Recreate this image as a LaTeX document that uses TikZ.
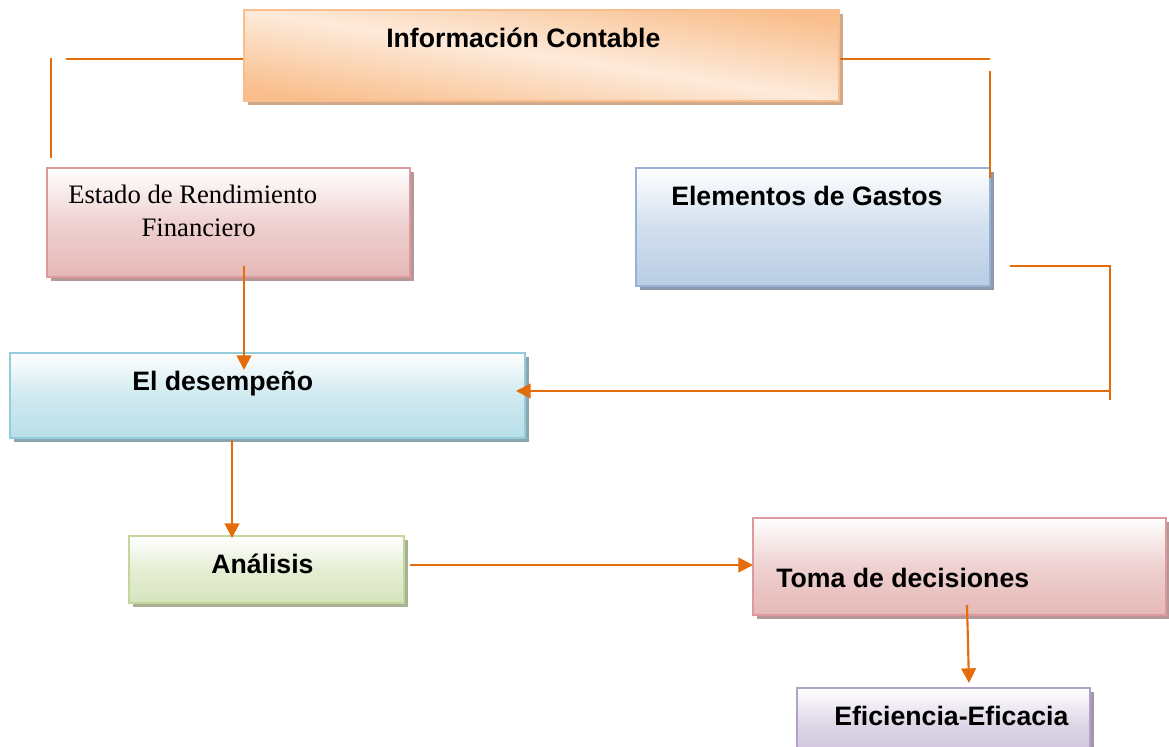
\documentclass[tikz,border=0pt]{standalone}
\usepackage{fontspec}
\setmainfont{Liberation Serif}
\newfontfamily\arialfont{Liberation Sans}
\usetikzlibrary{arrows.meta,shadows,fit}
\definecolor{lineor}{HTML}{E46C0A}
\definecolor{orA}{HTML}{F9BE8C}
\definecolor{orL}{HTML}{FDEADA}
\definecolor{orB}{HTML}{F8BE8E}
\definecolor{orS}{HTML}{CFA98A}
\definecolor{pkB}{HTML}{DC9A9C}
\definecolor{pkF}{HTML}{E5B8B7}
\definecolor{pkS}{HTML}{B59797}
\definecolor{blB}{HTML}{95B3D7}
\definecolor{blF}{HTML}{B9CDE5}
\definecolor{blS}{HTML}{8E99A9}
\definecolor{cyB}{HTML}{93CDDD}
\definecolor{cyF}{HTML}{B7DEE8}
\definecolor{cyS}{HTML}{8DA6AD}
\definecolor{grB}{HTML}{C3D69B}
\definecolor{grF}{HTML}{D7E4BD}
\definecolor{grS}{HTML}{A8B096}
\definecolor{puB}{HTML}{B3A2C7}
\definecolor{puF}{HTML}{CCC1DA}
\definecolor{puS}{HTML}{9F98A8}
\begin{document}
\begin{tikzpicture}[x=0.75pt,y=-0.75pt,
  card/.style n args={3}{draw=#1, line width=1.5pt, inner sep=0pt,
    top color=white, bottom color=#2, middle color=#2!65!white,
    drop shadow={shadow xshift=3pt,shadow yshift=-3pt,fill=#3,opacity=1}},
  lab/.style={inner sep=0pt, anchor=base west,
    font=\arialfont\bfseries\fontsize{20}{24}\selectfont},
  link/.style={draw=lineor, line width=1.6pt},
  linkarrow/.style={link, -{Triangle[length=11pt,width=11pt]}}]
\fill[white] (0,0) rectangle (1169,746);
\useasboundingbox (0,0) rectangle (1169,746);

% boxes
\node[card={orB}{orA}{orS}, top color=orA, bottom color=orA, middle color=orL,
      shading angle=-8.7, fit={(244,10) (839,101)}] (info) {};
\node[card={pkB}{pkF}{pkS}, fit={(47,168) (410,277)}] (estado) {};
\node[card={blB}{blF}{blS}, fit={(636,168) (990,286)}] (elem) {};
\node[card={cyB}{cyF}{cyS}, fit={(10,353) (525,438)}] (desemp) {};
\node[card={grB}{grF}{grS}, fit={(129,536) (404,603)}] (anal) {};
\node[card={pkB}{pkF}{pkS}, fit={(753,518) (1166,615)}] (toma) {};
\node[card={puB}{puF}{puS}, fit={(797,688) (1090,760)}] (efic) {};

% texts
\node[lab] (tinfo) at (386,47) {Información Contable};
\node[inner sep=0pt, anchor=north west, align=left,
      font=\fontsize{20}{24.75}\selectfont] (testado) at (68,185)
      {Estado de Rendimiento\\\hspace*{55pt}Financiero};
\node[lab] (telem) at (671,205) {Elementos de Gastos};
\node[lab] (tdesemp) at (132,390) {El desempeño};
\node[lab] (tanal) at (211,573) {Análisis};
\node[lab] (ttoma) at (776,587) {Toma de decisiones};
\node[lab] (tefic) at (834,725) {Eficiencia-Eficacia};

% connectors
\coordinate (infoL) at (66,59);
\draw[link] (info.west |- infoL) -- (infoL);
\coordinate (vlTop) at (51,58);
\coordinate (vlBot) at (51,158);
\draw[link] (vlTop) -- (vlBot);
\coordinate (infoR) at (990,59);
\draw[link] (info.east |- infoR) -- (infoR);
\coordinate (vrTop) at (990,71);
\coordinate (vrBot) at (990,178);
\draw[link] (vrTop) -- (vrBot);
\coordinate (gA) at (1010,266);
\coordinate (gB) at (1110,266);
\coordinate (gC) at (1110,400);
\draw[link] (gA) -- (gB) -- (gC);
\coordinate (gD) at (1110,391);
\coordinate (dTip) at (516,391);
\draw[linkarrow] (gD) -- (dTip);
\coordinate (eS) at (244,266);
\coordinate (dTop) at (244,370);
\draw[linkarrow] (eS) -- (dTop);
\coordinate (dS) at (232,440);
\coordinate (aTop) at (232,538);
\draw[linkarrow] (dS) -- (aTop);
\coordinate (aE) at (410,565);
\coordinate (tW) at (753,565);
\draw[linkarrow] (aE) -- (tW);
\coordinate (tS) at (967,605);
\coordinate (fTop) at (969,683);
\draw[linkarrow] (tS) -- (fTop);
\end{tikzpicture}
\end{document}
